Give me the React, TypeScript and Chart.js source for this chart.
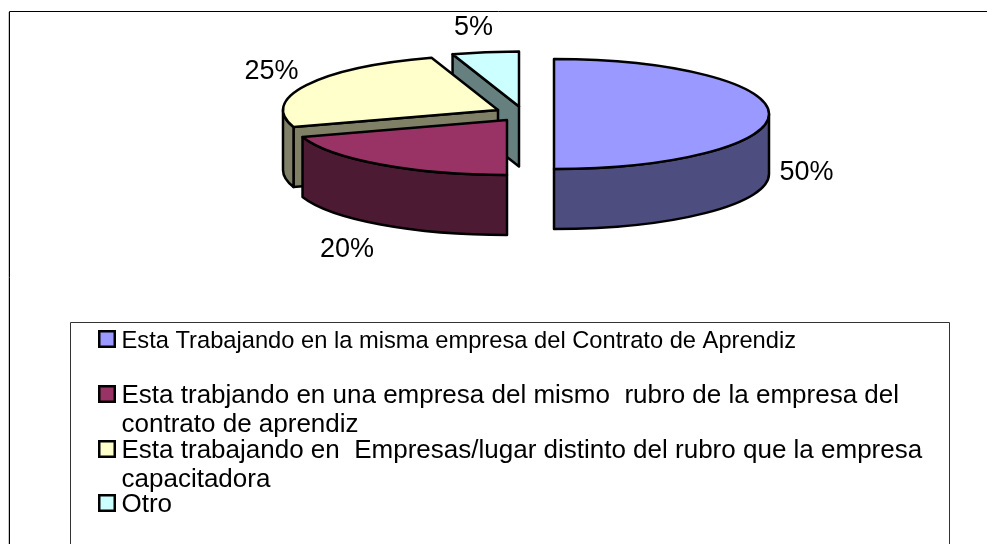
import React, { useEffect, useRef } from "react";
import { Chart, registerables } from "chart.js";

Chart.register(...registerables);

const categories = [
  "Esta Trabajando en la misma empresa del Contrato de Aprendiz",
  "Esta trabjando en una empresa del mismo  rubro de la empresa del contrato de aprendiz",
  "Esta trabajando en  Empresas/lugar distinto del rubro que la empresa capacitadora",
  "Otro",
];
const values = [50, 20, 25, 5];
const topColors = ["#9999FF", "#993366", "#FFFFCC", "#CCFFFF"];
const sideColors = ["#4D4D80", "#4D1A33", "#808066", "#668080"];

// Legend text, broken into its printed lines
const legendLines = [
  ["Esta Trabajando en la misma empresa del Contrato de Aprendiz"],
  ["Esta trabjando en una empresa del mismo  rubro de la empresa del", "contrato de aprendiz"],
  ["Esta trabajando en  Empresas/lugar distinto del rubro que la empresa", "capacitadora"],
  ["Otro"],
];

// Layout of the exploded 3D pie
const TILT = 55 / 215;
const RADIUS = 215;
const DEPTH = 60;
const apexes = [
  [554, 114],
  [507, 120],
  [498, 110],
  [519, 106.5],
];
const labelSpots = [
  [806.5, 173],
  [347, 249.5],
  [271.5, 71.5],
  [473.5, 28],
];
const legendBox = { left: 70, top: 322, right: 949, bottom: 560 };
const legendFonts = [23.7, 26, 26, 26];
const legendSwatchTops = [331.25, 386.25, 441.25, 495.25];
const legendBaselines = [[348], [403, 432], [458, 487], [512]];
const drawOrder = [3, 2, 1, 0];

const FONT = '"Liberation Sans", Arial, sans-serif';

const pie3d = {
  id: "pie3d",
  beforeDatasetDraw(chart: any, args: any) {
    const ctx = chart.ctx as CanvasRenderingContext2D;
    const arcs = args.meta.data;
    ctx.save();
    ctx.lineJoin = "round";
    ctx.lineWidth = 2.5;
    ctx.strokeStyle = "#000";

    for (const i of drawOrder) {
      const el = arcs[i];
      const [ax, ay] = apexes[i];
      const R = el.outerRadius;
      const Ry = R * TILT;
      const s = el.startAngle;
      const e = el.endAngle;
      const at = (t: number): [number, number] => [ax + R * Math.cos(t), ay + Ry * Math.sin(t)];

      ctx.fillStyle = sideColors[i];
      // Radial cut faces that look toward the viewer
      const faces: [number, number][] = [
        [s, s - Math.PI / 2],
        [e, e + Math.PI / 2],
      ];
      for (const [t, normal] of faces) {
        if (Math.sin(normal) > 1e-6) {
          const [px, py] = at(t);
          ctx.beginPath();
          ctx.moveTo(ax, ay);
          ctx.lineTo(px, py);
          ctx.lineTo(px, py + DEPTH);
          ctx.lineTo(ax, ay + DEPTH);
          ctx.closePath();
          ctx.fill();
          ctx.stroke();
        }
      }
      // Outer rim
      const a0 = Math.max(s, 0);
      const a1 = Math.min(e, Math.PI);
      if (a1 > a0) {
        ctx.beginPath();
        ctx.ellipse(ax, ay, R, Ry, 0, a0, a1, false);
        ctx.ellipse(ax, ay + DEPTH, R, Ry, 0, a1, a0, true);
        ctx.closePath();
        ctx.fill();
        ctx.stroke();
      }
      // Top face: the library's arc, squashed
      ctx.save();
      ctx.translate(ax, ay);
      ctx.scale(1, TILT);
      ctx.translate(-el.x, -el.y);
      el.draw(ctx);
      ctx.restore();
      ctx.beginPath();
      ctx.moveTo(ax, ay);
      ctx.ellipse(ax, ay, R, Ry, 0, s, e, false);
      ctx.closePath();
      ctx.stroke();
    }
    ctx.restore();
    return false;
  },
  afterDraw(chart: any) {
    const ctx = chart.ctx as CanvasRenderingContext2D;
    ctx.save();
    // Outer frame
    ctx.strokeStyle = "#C8C8C8";
    ctx.lineWidth = 1;
    ctx.beginPath();
    ctx.moveTo(8.5, 12);
    ctx.lineTo(8.5, 544);
    ctx.stroke();
    ctx.strokeStyle = "#000";
    ctx.beginPath();
    ctx.moveTo(9.5, 544);
    ctx.lineTo(9.5, 11.5);
    ctx.lineTo(987, 11.5);
    ctx.stroke();

    // Percentage labels
    ctx.fillStyle = "#000";
    ctx.font = `27px ${FONT}`;
    ctx.textAlign = "center";
    ctx.textBaseline = "middle";
    values.forEach((v, i) => {
      ctx.fillText(`${v}%`, labelSpots[i][0], labelSpots[i][1]);
    });

    // Legend
    ctx.strokeStyle = "#333";
    ctx.lineWidth = 1;
    ctx.beginPath();
    ctx.moveTo(legendBox.left + 0.5, legendBox.bottom);
    ctx.lineTo(legendBox.left + 0.5, legendBox.top + 0.5);
    ctx.lineTo(legendBox.right + 0.5, legendBox.top + 0.5);
    ctx.lineTo(legendBox.right + 0.5, legendBox.bottom);
    ctx.stroke();

    ctx.textAlign = "left";
    ctx.textBaseline = "alphabetic";
    legendLines.forEach((lines, i) => {
      ctx.fillStyle = topColors[i];
      ctx.strokeStyle = "#000";
      ctx.lineWidth = 2.5;
      ctx.fillRect(99.25, legendSwatchTops[i], 15.5, 15.5);
      ctx.strokeRect(99.25, legendSwatchTops[i], 15.5, 15.5);
      ctx.fillStyle = "#000";
      ctx.font = `${legendFonts[i]}px ${FONT}`;
      lines.forEach((line, j) => {
        ctx.fillText(line, 121.5, legendBaselines[i][j]);
      });
    });
    ctx.restore();
  },
};

export default function App() {
  const ref = useRef<HTMLCanvasElement>(null);
  useEffect(() => {
    document.body.style.background = "#fff";
    const chart = new Chart(ref.current as HTMLCanvasElement, {
      type: "pie",
      data: {
        labels: categories,
        datasets: [
          {
            data: values,
            backgroundColor: topColors,
            borderWidth: 0,
            radius: RADIUS,
          } as any,
        ],
      },
      options: {
        responsive: false,
        animation: false,
        events: [],
        plugins: {
          legend: { display: false },
          tooltip: { enabled: false },
        },
      },
      plugins: [pie3d],
    });
    return () => chart.destroy();
  }, []);
  return (
    <div style={{ position: "absolute", left: 0, top: 0, width: 987, height: 544, overflow: "hidden", background: "#fff" }}>
      <canvas ref={ref} width={987} height={544} style={{ display: "block", width: 987, height: 544 }} />
    </div>
  );
}
